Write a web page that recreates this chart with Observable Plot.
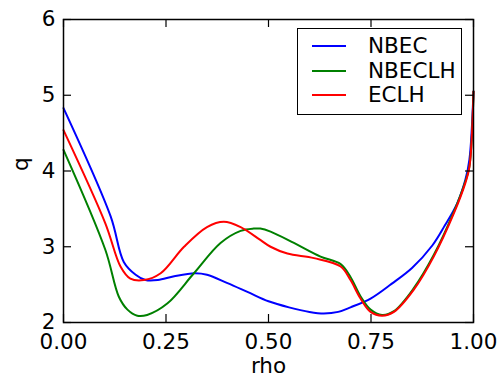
<!DOCTYPE html>
<html>
<head>
<meta charset="utf-8">
<script src="https://cdn.jsdelivr.net/npm/d3@7"></script>
<script src="https://cdn.jsdelivr.net/npm/@observablehq/plot@0.6"></script>
<style>
  html, body { margin: 0; padding: 0; background: #fff; }
  #wrap { position: relative; width: 498px; height: 378px; font-family: "DejaVu Sans", sans-serif; }
  #legend { position: absolute; left: 297px; top: 28px; width: 163px; height: 85px;
    border: 1.5px solid #000; background: #fff; box-sizing: content-box; }
  #legend .row { position: absolute; left: 0; height: 24px; display: flex; align-items: center; }
  #legend .sw { width: 34px; height: 2px; margin-left: 14px; margin-right: 22px; }
  #legend .lb { font-size: 21.5px; line-height: 24px; color: #000; }
</style>
</head>
<body>
<div id="wrap"></div>
<script>
// ---- data ----
const seriesNames = ["NBEC", "NBECLH", "ECLH"];
const seriesColors = ["#0000ff", "#008000", "#ff0000"];

const nbecRho = [0, 0.115, 0.147, 0.176, 0.20, 0.23, 0.27, 0.32, 0.35, 0.40, 0.45, 0.50, 0.55, 0.60, 0.635, 0.67, 0.70, 0.75, 0.80, 0.85, 0.90, 0.93, 0.96, 0.98, 0.99, 1.00];
const nbecQ   = [4.83, 3.40, 2.80, 2.63, 2.56, 2.56, 2.61, 2.65, 2.63, 2.52, 2.40, 2.28, 2.20, 2.14, 2.12, 2.14, 2.20, 2.32, 2.51, 2.72, 3.02, 3.28, 3.57, 3.88, 4.15, 5.05];

const nbeclhRho = [0, 0.102, 0.135, 0.156, 0.180, 0.204, 0.253, 0.318, 0.383, 0.432, 0.464, 0.48, 0.505, 0.562, 0.627, 0.676, 0.70, 0.724, 0.749, 0.777, 0.806, 0.854, 0.903, 0.952, 0.98, 0.99, 1.00];
const nbeclhQ   = [4.28, 2.96, 2.34, 2.17, 2.09, 2.10, 2.25, 2.65, 3.05, 3.21, 3.24, 3.24, 3.20, 3.05, 2.87, 2.77, 2.60, 2.35, 2.17, 2.10, 2.15, 2.45, 2.89, 3.46, 3.86, 4.06, 5.05];

const eclhRho = [0, 0.102, 0.139, 0.163, 0.196, 0.237, 0.294, 0.35, 0.391, 0.432, 0.48, 0.505, 0.546, 0.611, 0.676, 0.70, 0.724, 0.749, 0.777, 0.806, 0.854, 0.903, 0.952, 0.98, 0.99, 1.00];
const eclhQ   = [4.54, 3.31, 2.74, 2.58, 2.56, 2.65, 3.00, 3.26, 3.33, 3.26, 3.09, 3.00, 2.91, 2.85, 2.74, 2.56, 2.32, 2.14, 2.09, 2.14, 2.43, 2.87, 3.44, 3.84, 4.05, 5.05];

const xTicks = [0, 0.25, 0.5, 0.75, 1.0];
const yTicks = [2, 3, 4, 5, 6];
const xLabel = "rho";
const yLabel = "q";

// ---- build table ----
const rows = [];
[[nbecRho, nbecQ], [nbeclhRho, nbeclhQ], [eclhRho, eclhQ]].forEach(([xs, ys], i) => {
  xs.forEach((x, j) => rows.push({series: seriesNames[i], rho: x, q: ys[j]}));
});

const W = 498, H = 378, mL = 63, mR = 25, mT = 19, mB = 56, tick = 8;
const innerW = W - mL - mR, innerH = H - mT - mB;

const chart = Plot.plot({
  width: W,
  height: H,
  marginLeft: mL,
  marginRight: mR,
  marginTop: mT,
  marginBottom: mB,
  style: {fontFamily: "DejaVu Sans, sans-serif", fontSize: "21.5px", color: "#000", background: "#fff"},
  x: {domain: [0, 1], ticks: xTicks},
  y: {domain: [2, 6], ticks: yTicks},
  color: {domain: seriesNames, range: seriesColors},
  marks: [
    Plot.line(rows, {x: "rho", y: "q", stroke: "series", z: "series", strokeWidth: 2, curve: "catmull-rom"}),
    Plot.axisX(xTicks, {anchor: "bottom", tickSize: 0, tickPadding: 11, tickFormat: d3.format(".2f"), label: null, fill: "#000"}),
    Plot.axisY(yTicks, {anchor: "left", tickSize: 0, tickPadding: 8, tickFormat: d3.format("d"), label: null, fill: "#000"}),
    // inward ticks on all four sides
    Plot.tickX(xTicks, {x: d => d, insetTop: innerH - tick, stroke: "#000", strokeWidth: 1.2}),
    Plot.tickX(xTicks, {x: d => d, insetBottom: innerH - tick, stroke: "#000", strokeWidth: 1.2}),
    Plot.tickY(yTicks, {y: d => d, insetRight: innerW - tick, stroke: "#000", strokeWidth: 1.2}),
    Plot.tickY(yTicks, {y: d => d, insetLeft: innerW - tick, stroke: "#000", strokeWidth: 1.2}),
    Plot.frame({stroke: "#000", strokeWidth: 1.5}),
    Plot.text([xLabel], {text: d => d, frameAnchor: "bottom", dy: 50, fill: "#000"}),
    Plot.text([yLabel], {text: d => d, frameAnchor: "left", dx: -42, rotate: -90, fill: "#000"})
  ]
});

const wrap = document.getElementById("wrap");
wrap.appendChild(chart);

// legend overlay
const legend = document.createElement("div");
legend.id = "legend";
seriesNames.forEach((name, i) => {
  const row = document.createElement("div");
  row.className = "row";
  row.style.top = (5 + i * 24.5) + "px";
  const sw = document.createElement("div");
  sw.className = "sw";
  sw.style.background = seriesColors[i];
  const lb = document.createElement("span");
  lb.className = "lb";
  lb.textContent = name;
  row.appendChild(sw);
  row.appendChild(lb);
  legend.appendChild(row);
});
wrap.appendChild(legend);
</script>
</body>
</html>
